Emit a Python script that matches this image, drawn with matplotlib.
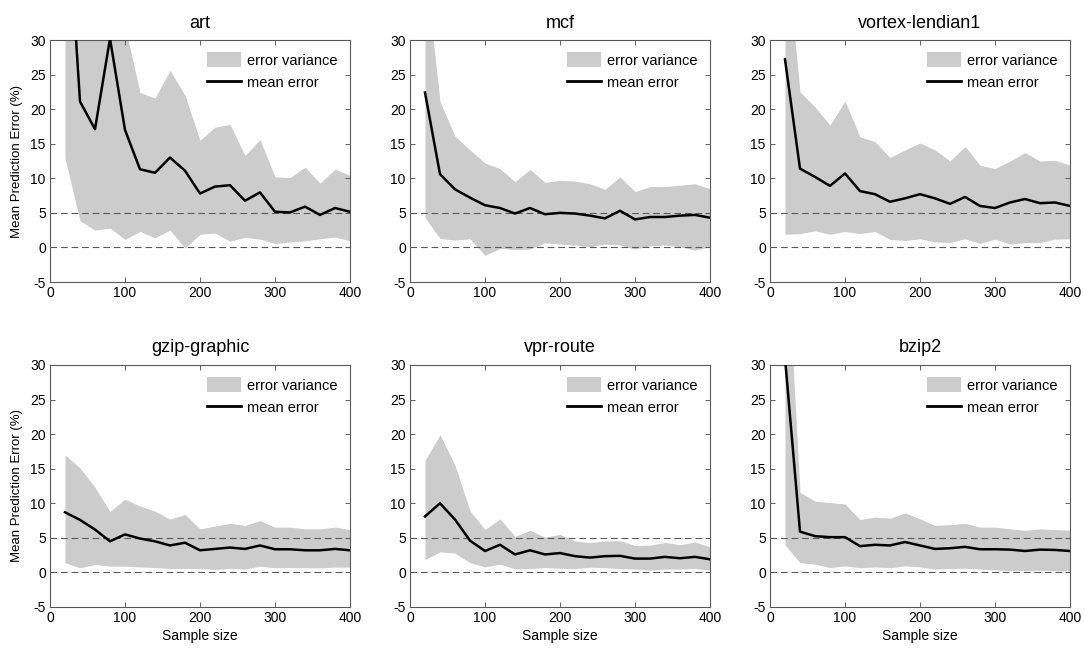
import numpy as np
import matplotlib
matplotlib.use('Agg')
from matplotlib import pyplot as plt
from matplotlib.patches import Patch
from matplotlib.lines import Line2D

plt.rcParams['font.family'] = ['Liberation Sans', 'DejaVu Sans']
plt.rcParams['axes.unicode_minus'] = False

# sample sizes
sizes = np.arange(20, 401, 20)

titles = ['art', 'mcf', 'vortex-lendian1', 'gzip-graphic', 'vpr-route', 'bzip2']

# mean prediction error (%) per benchmark
art_mean = [55, 21.1, 17.1, 30.2, 17.0, 11.3, 10.8, 13.0, 11.1, 7.8, 8.8, 9.0, 6.75, 7.96, 5.16, 5.06, 5.9, 4.7, 5.7, 5.16]
mcf_mean = [22.4, 10.6, 8.4, 7.2, 6.1, 5.7, 4.9, 5.7, 4.8, 5.0, 4.9, 4.6, 4.2, 5.3, 4.05, 4.4, 4.4, 4.6, 4.7, 4.3]
vortex_mean = [27.2, 11.4, 10.2, 8.9, 10.7, 8.15, 7.7, 6.6, 7.1, 7.7, 7.1, 6.3, 7.3, 6.0, 5.7, 6.5, 7.0, 6.4, 6.5, 6.0]
gzip_mean = [8.7, 7.6, 6.2, 4.5, 5.5, 4.9, 4.5, 3.9, 4.3, 3.2, 3.4, 3.6, 3.4, 3.9, 3.35, 3.35, 3.2, 3.2, 3.4, 3.2]
vpr_mean = [8.1, 10.0, 7.65, 4.6, 3.1, 4.0, 2.6, 3.2, 2.6, 2.8, 2.35, 2.15, 2.35, 2.4, 2.0, 2.0, 2.25, 2.05, 2.25, 1.9]
bzip_mean = [31, 5.9, 5.25, 5.1, 5.1, 3.8, 4.0, 3.9, 4.4, 3.9, 3.4, 3.5, 3.7, 3.35, 3.35, 3.3, 3.1, 3.3, 3.25, 3.1]

# upper edge of the error variance band
art_hi = [45, 42, 40, 48, 32, 22.4, 21.6, 25.6, 22.0, 15.5, 17.4, 17.8, 13.3, 15.6, 10.2, 10.1, 11.6, 9.3, 11.3, 10.4]
mcf_hi = [41, 21.1, 16.1, 14.1, 12.2, 11.4, 9.5, 11.3, 9.4, 9.7, 9.6, 9.2, 8.4, 10.2, 8.06, 8.8, 8.8, 9.0, 9.2, 8.5]
vortex_hi = [45, 22.5, 20.3, 17.7, 21.2, 16.0, 15.3, 13.0, 14.1, 15.1, 14.1, 12.5, 14.6, 11.9, 11.4, 12.5, 13.7, 12.5, 12.6, 11.9]
gzip_hi = [17.0, 15.1, 12.3, 8.8, 10.6, 9.6, 8.85, 7.7, 8.4, 6.3, 6.7, 7.1, 6.8, 7.5, 6.55, 6.55, 6.3, 6.3, 6.55, 6.2]
vpr_hi = [16.2, 19.9, 15.5, 8.9, 6.2, 7.75, 5.2, 6.1, 5.1, 5.5, 4.55, 4.3, 4.55, 4.6, 3.9, 3.95, 4.35, 4.0, 4.4, 3.7]
bzip_hi = [52, 11.6, 10.3, 10.1, 9.9, 7.65, 8.0, 7.85, 8.6, 7.75, 6.8, 6.9, 7.1, 6.55, 6.55, 6.3, 6.1, 6.3, 6.2, 6.1]

# lower edge of the error variance band
art_lo = [12.9, 3.86, 2.5, 2.8, 1.16, 2.3, 1.4, 2.5, -0.1, 1.9, 2.07, 0.9, 1.45, 1.2, 0.58, 0.77, 0.96, 1.25, 1.5, 0.96]
mcf_lo = [4.3, 1.3, 1.06, 1.25, -1.16, -0.14, -0.3, -0.24, 0.68, 0.48, 0.34, 0.1, 0.48, 0.34, -0.24, 0.24, 0.34, 0.1, -0.39, 0.1]
vortex_lo = [1.9, 2.0, 2.4, 1.9, 2.3, 2.0, 2.3, 1.16, 1.0, 1.25, 0.8, 0.7, 1.25, 0.58, 1.2, 0.48, 0.7, 0.7, 1.2, 1.25]
gzip_lo = [1.4, 0.67, 1.15, 0.9, 0.9, 0.8, 0.7, 0.57, 0.57, 0.57, 0.43, 0.6, 0.48, 0.9, 0.67, 0.7, 0.67, 0.67, 0.77, 0.77]
vpr_lo = [1.87, 2.97, 2.8, 1.4, 0.8, 1.2, 0.5, 0.55, 0.7, 0.6, 0.55, 0.75, 0.7, 0.55, 0.48, 0.33, 0.5, 0.48, 0.6, 0.33]
bzip_lo = [4.0, 1.4, 1.2, 0.7, 0.95, 0.67, 0.8, 0.67, 0.95, 0.8, 0.48, 0.57, 0.6, 0.48, 0.38, 0.24, 0.24, 0.33, 0.24, 0.24]

means = [art_mean, mcf_mean, vortex_mean, gzip_mean, vpr_mean, bzip_mean]
highs = [art_hi, mcf_hi, vortex_hi, gzip_hi, vpr_hi, bzip_hi]
lows = [art_lo, mcf_lo, vortex_lo, gzip_lo, vpr_lo, bzip_lo]

band_col = '#cccccc'
fs = 10

fig = plt.figure(figsize=(10.84, 6.51), dpi=100)
lefts = [50/1084, 410/1084, 770/1084]
bottoms = [1 - 282/651, 1 - 607/651]
w = 300/1084
h = 242/651

for i in range(6):
    r, c = divmod(i, 3)
    ax = fig.add_axes([lefts[c], bottoms[r], w, h])
    ax.fill_between(sizes, lows[i], highs[i], color=band_col, lw=0, zorder=1)
    for yref in (0, 5):
        ax.axhline(yref, color='0.35', lw=0.8, dashes=(6, 3.5), zorder=2)
    ax.plot(sizes, means[i], color='black', lw=1.8, zorder=3)
    ax.set_xlim(0, 400)
    ax.set_ylim(-5, 30)
    ax.set_xticks(range(0, 401, 100))
    ax.set_yticks(range(-5, 31, 5))
    ax.tick_params(direction='in', top=True, right=True, length=3.5,
                   width=0.6, color='0.3', labelsize=fs, pad=3)
    for s in ax.spines.values():
        s.set_color('0.35')
        s.set_linewidth(0.8)
    ax.set_title(titles[i], fontsize=13, pad=9)
    if c == 0:
        ax.set_ylabel('Mean Prediction Error (%)', fontsize=9.5, labelpad=5)
    if r == 1:
        ax.set_xlabel('Sample size', fontsize=fs, labelpad=3)
    handles = [Patch(facecolor=band_col, edgecolor='none', label='error variance'),
               Line2D([], [], color='black', lw=2, label='mean error')]
    ax.legend(handles=handles, loc='upper right', frameon=False, fontsize=10.5,
              handlelength=2.35, handleheight=1.2, labelspacing=0.45,
              handletextpad=0.4, borderaxespad=0.45)

fig.savefig('out.png', dpi=100)
